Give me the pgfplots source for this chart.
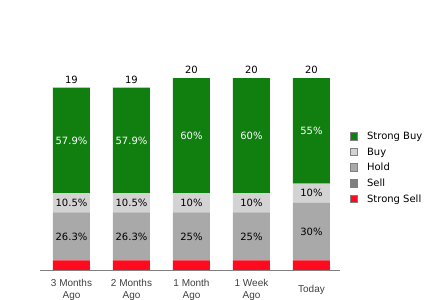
\documentclass[border=0pt]{standalone}
\usepackage{pgfplots}
\pgfplotsset{compat=1.18}
\usepackage{pgfplotstable}
\usepackage{fontspec}
\setmainfont{DejaVu Sans}
\newfontfamily\tickfont{Liberation Sans}

\definecolor{sbuy}{HTML}{107F10}
\definecolor{buy}{HTML}{D3D3D3}
\definecolor{hold}{HTML}{A9A9A9}
\definecolor{sell}{HTML}{7F7F7F}
\definecolor{ssell}{HTML}{FF0A1E}
\definecolor{axisgray}{HTML}{808080}
\definecolor{ticktext}{HTML}{404040}

% analyst ratings (number of analysts) per period
\pgfplotstableread{
x ssell sell hold buy sbuy
0 1 0 5 2 11
1 1 0 5 2 11
2 1 0 5 2 12
3 1 0 5 2 12
4 1 0 6 2 11
}\ratings

% label positions: centre of each segment, and the total above the bar
\pgfplotstableread{
x y label
0 3.5 26.3\%
1 3.5 26.3\%
2 3.5 25\%
3 3.5 25\%
4 4.0 30\%
0 7.0 10.5\%
1 7.0 10.5\%
2 7.0 10\%
3 7.0 10\%
4 8.0 10\%
}\darklabels
\pgfplotstableread{
x y label
0 13.5 57.9\%
1 13.5 57.9\%
2 14.0 60\%
3 14.0 60\%
4 14.5 55\%
}\lightlabels
\pgfplotstableread{
x y label
0 19 19
1 19 19
2 20 20
3 20 20
4 20 20
}\totals

\pgfplotsset{
  ratingaxis/.style={
    at={(40pt,30pt)}, anchor=south west,
    scale only axis, width=300pt, height=240pt,
    xmin=-0.525, xmax=4.475, ymin=0, ymax=25,
    clip=false,
  },
}

\begin{document}
\begin{tikzpicture}[x=1pt,y=1pt]
\useasboundingbox (0,0) rectangle (440,300);
\begin{axis}[
  ratingaxis,
  ybar stacked, bar width=37pt,
  axis x line*=bottom, axis y line=none,
  x axis line style={draw=axisgray, -},
  xtick={0,1,2,3,4},
  xticklabels={{3 Months\\Ago},{2 Months\\Ago},{1 Month\\Ago},{1 Week\\Ago},{Today}},
  xtick style={draw=none},
  xticklabel style={font=\tickfont\fontsize{10}{11.5}\selectfont, text=ticktext,
    align=center, anchor=center, yshift=-20pt},
  legend style={at={(1.022,0.587)}, anchor=north west, draw=none, fill=none,
    font=\fontsize{10}{11}\selectfont, row sep=4.6pt,
    nodes={inner sep=1pt}},
  legend image code/.code={%
    \draw[draw=axisgray, line width=0.6pt, #1] (0pt,-3.5pt) rectangle (7.5pt,4pt);
    \path (16pt,0pt);},
  legend cell align=left,
  reverse legend,
]
\addplot[fill=ssell, draw=none] table[x=x, y=ssell] {\ratings};
\addlegendentry{Strong Sell}
\addplot[fill=sell, draw=none] table[x=x, y=sell] {\ratings};
\addlegendentry{Sell}
\addplot[fill=hold, draw=none] table[x=x, y=hold] {\ratings};
\addlegendentry{Hold}
\addplot[fill=buy, draw=none] table[x=x, y=buy] {\ratings};
\addlegendentry{Buy}
\addplot[fill=sbuy, draw=none] table[x=x, y=sbuy] {\ratings};
\addlegendentry{Strong Buy}
\end{axis}
\begin{axis}[
  ratingaxis,
  hide axis,
  nodes near coords, point meta=explicit symbolic,
  every node near coord/.append style={font=\fontsize{10}{12}\selectfont, inner sep=0pt},
]
\addplot[draw=none, mark=none,
  every node near coord/.append style={anchor=center, text=black}]
  table[x=x, y=y, meta=label] {\darklabels};
\addplot[draw=none, mark=none,
  every node near coord/.append style={anchor=center, text=white}]
  table[x=x, y=y, meta=label] {\lightlabels};
\addplot[draw=none, mark=none,
  every node near coord/.append style={anchor=south, yshift=4pt, text=black}]
  table[x=x, y=y, meta=label] {\totals};
\end{axis}
\end{tikzpicture}
\end{document}
